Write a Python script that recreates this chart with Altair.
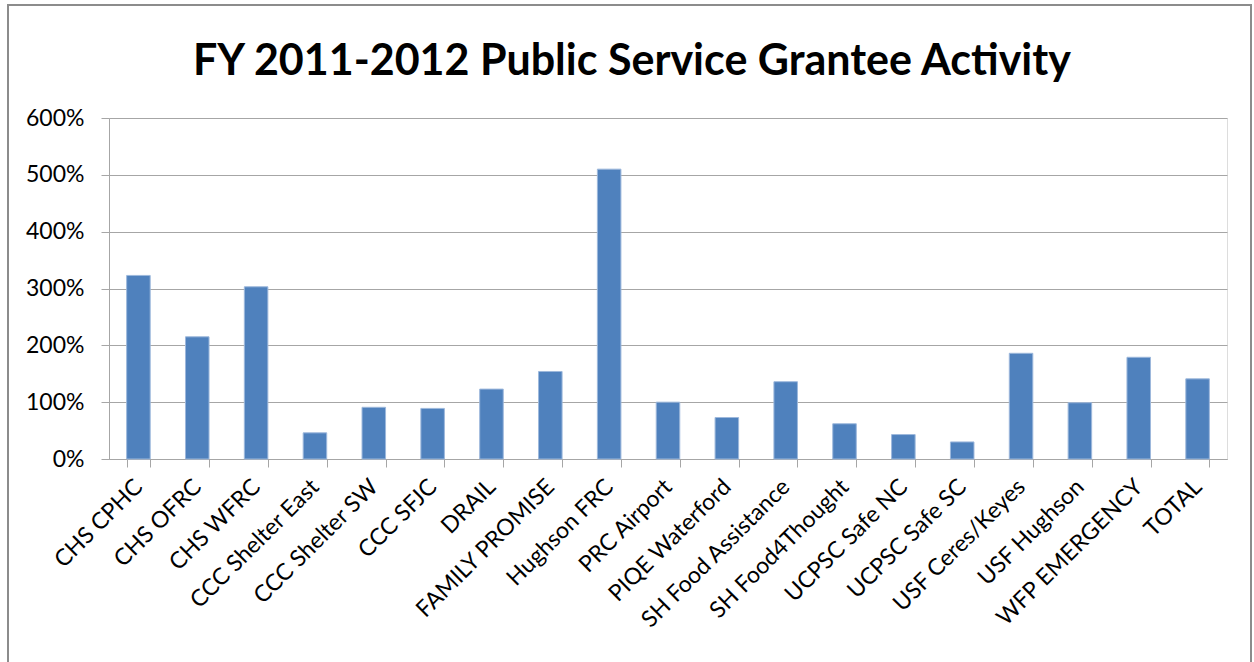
import altair as alt
import pandas as pd

categories = ["CHS CPHC", "CHS OFRC", "CHS WFRC", "CCC Shelter East", "CCC Shelter SW",
              "CCC SFJC", "DRAIL", "FAMILY PROMISE", "Hughson FRC", "PRC Airport",
              "PIQE Waterford", "SH Food Assistance", "SH Food4Thought", "UCPSC Safe NC",
              "UCPSC Safe SC", "USF Ceres/Keyes", "USF Hughson", "WFP EMERGENCY", "TOTAL"]
values = [3.23, 2.15, 3.03, 0.46, 0.91, 0.89, 1.23, 1.54, 5.10, 1.00,
          0.73, 1.36, 0.62, 0.43, 0.30, 1.86, 0.99, 1.79, 1.41]
y_ticks = [0, 1, 2, 3, 4, 5, 6]
title_text = ["FY 2011-2012 Public Service Grantee Activity"]

df = pd.DataFrame({"cat": categories, "val": values})
tdf = pd.DataFrame({"t": title_text})

FONT = "Lato"
GRAY = "#a6a6a6"

bars = alt.Chart(df).mark_bar(color="#4F81BD", stroke="#9DB8DC", strokeWidth=1).encode(
    x=alt.X("cat:N", sort=categories,
            scale=alt.Scale(paddingInner=0.6, paddingOuter=0.3),
            axis=alt.Axis(title=None, labelAngle=-45, labelAlign="right", labelBaseline="middle",
                          labelFontSize=23, labelFont=FONT, labelColor="#000000",
                          labelPadding=16, tickBand="extent", tickColor=GRAY, tickSize=8,
                          domainColor=GRAY, labelOverlap=False, labelLimit=0)),
    y=alt.Y("val:Q", scale=alt.Scale(domain=[0, 6], nice=False),
            axis=alt.Axis(title=None, format=".0%", values=y_ticks, labelFontSize=23,
                          labelFont=FONT, labelColor="#000000", labelPadding=17,
                          gridColor=GRAY, gridWidth=1, tickColor=GRAY, tickSize=8,
                          domainColor=GRAY)),
)

title = alt.Chart(tdf).mark_text(font=FONT, fontSize=43, fontWeight="bold", color="#000000",
                                 align="center", baseline="alphabetic").encode(
    text="t:N", x=alt.value(523), y=alt.value(-43)
)

border = alt.Chart(df).mark_rect(fill=None, stroke="#8c8c8c", strokeWidth=2).encode(
    x=alt.value(-101), x2=alt.value(1142), y=alt.value(-113), y2=alt.value(560)
)

chart = alt.layer(bars, title, border).properties(
    width=1118, height=341,
    autosize=alt.AutoSizeParams(type="none"),
    padding={"left": 109, "top": 118, "right": 27, "bottom": 203},
).configure_view(stroke=None).configure(background="white")

chart.save("out.html", embed_options={"renderer": "svg", "actions": False})
